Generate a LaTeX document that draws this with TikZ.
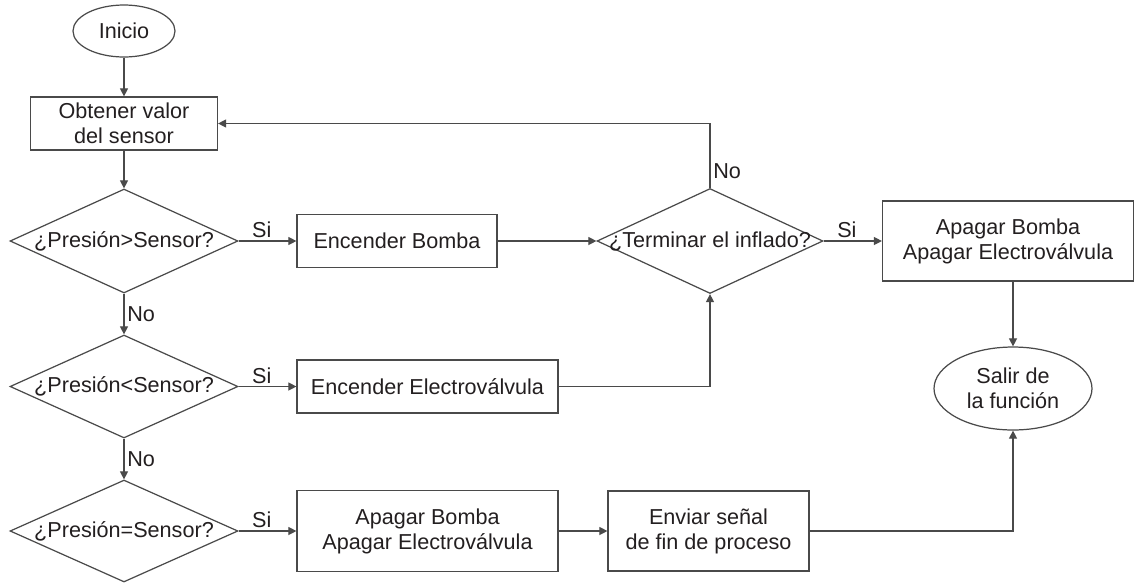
\documentclass[tikz,border=0pt]{standalone}
\usepackage{fontspec}
\setmainfont{Liberation Sans}
\usetikzlibrary{shapes.geometric,arrows.meta}
\definecolor{ink}{HTML}{231F20}
\definecolor{edge}{HTML}{4A4A4A}
\begin{document}
\begin{tikzpicture}[x=0.02cm,y=-0.02cm,
  every node/.style={font=\fontsize{12.3}{14.2}\selectfont, text=ink},
  proc/.style={draw=edge, line width=0.7pt, rectangle, inner sep=0pt, align=center},
  term/.style={draw=edge, line width=0.7pt, ellipse, inner sep=0pt, align=center},
  cond/.style={draw=edge, line width=0.7pt, diamond, inner sep=0pt},
  flow/.style={draw=edge, line width=0.7pt, -{Triangle[length=4.6pt,width=4.6pt]}},
  tag/.style={inner sep=1.5pt}
]
\useasboundingbox (0,0) rectangle (1135,582);

% start / end
\node[term, minimum width=2.04cm, minimum height=1.04cm] (inicio) at (124,31) {Inicio};
\node[term, minimum width=3.16cm, minimum height=1.66cm] (salir) at (1013,388.5) {Salir de\\la función};

% left column
\node[proc, minimum width=3.74cm, minimum height=1.06cm] (obtener) at (124,123.5) {Obtener valor\\del sensor};
\node[cond, minimum width=4.56cm, minimum height=2.08cm, label={center:¿Presión>Sensor?}] (d1) at (124,241) {};
\node[cond, minimum width=4.56cm, minimum height=2.06cm, label={center:¿Presión<Sensor?}] (d2) at (124,386.5) {};
\node[cond, minimum width=4.56cm, minimum height=2.04cm, label={center:¿Presión=Sensor?}] (d3) at (124,531) {};

% actions
\node[proc, minimum width=4.0cm, minimum height=1.06cm] (bomba) at (397,241) {Encender Bomba};
\node[proc, minimum width=5.22cm, minimum height=1.06cm] (electro) at (427.5,386.5) {Encender Electroválvula};
\node[proc, minimum width=5.22cm, minimum height=1.62cm] (apagarA) at (427.5,531) {Apagar Bomba\\Apagar Electroválvula};
\node[proc, minimum width=4.02cm, minimum height=1.6cm] (enviar) at (708.5,531) {Enviar señal\\de fin de proceso};
\node[cond, minimum width=4.52cm, minimum height=2.1cm, label={center:¿Terminar el inflado?}] (fin) at (710,241) {};
\node[proc, minimum width=5.02cm, minimum height=1.6cm] (apagarB) at (1008,241) {Apagar Bomba\\Apagar Electroválvula};

% connectors
\draw[flow] (inicio) -- (obtener);
\draw[flow] (obtener) -- (d1);
\draw[flow] (d1.east) -- node[tag, above, pos=0.4] {Si} (bomba.west);
\draw[flow] (d1.south) -- node[tag, right, pos=0.5] {No} (d2.north);
\draw[flow] (d2.east) -- node[tag, above, pos=0.4] {Si} (electro.west);
\draw[flow] (d2.south) -- node[tag, right, pos=0.5] {No} (d3.north);
\draw[flow] (d3.east) -- node[tag, above, pos=0.4] {Si} (apagarA.west);
\draw[flow] (apagarA) -- (enviar);
\draw[flow] (enviar.east) -| (salir.south);
\draw[flow] (bomba.east) -- (fin.west);
\draw[flow] (electro.east) -| (fin.south);
\draw[flow] (fin.north) |- node[tag, right, pos=0.13] {No} (obtener.east);
\draw[flow] (fin.east) -- node[tag, above, pos=0.4] {Si} (apagarB.west);
\draw[flow] (salir.north |- apagarB.south) -- (salir.north);
\end{tikzpicture}
\end{document}
